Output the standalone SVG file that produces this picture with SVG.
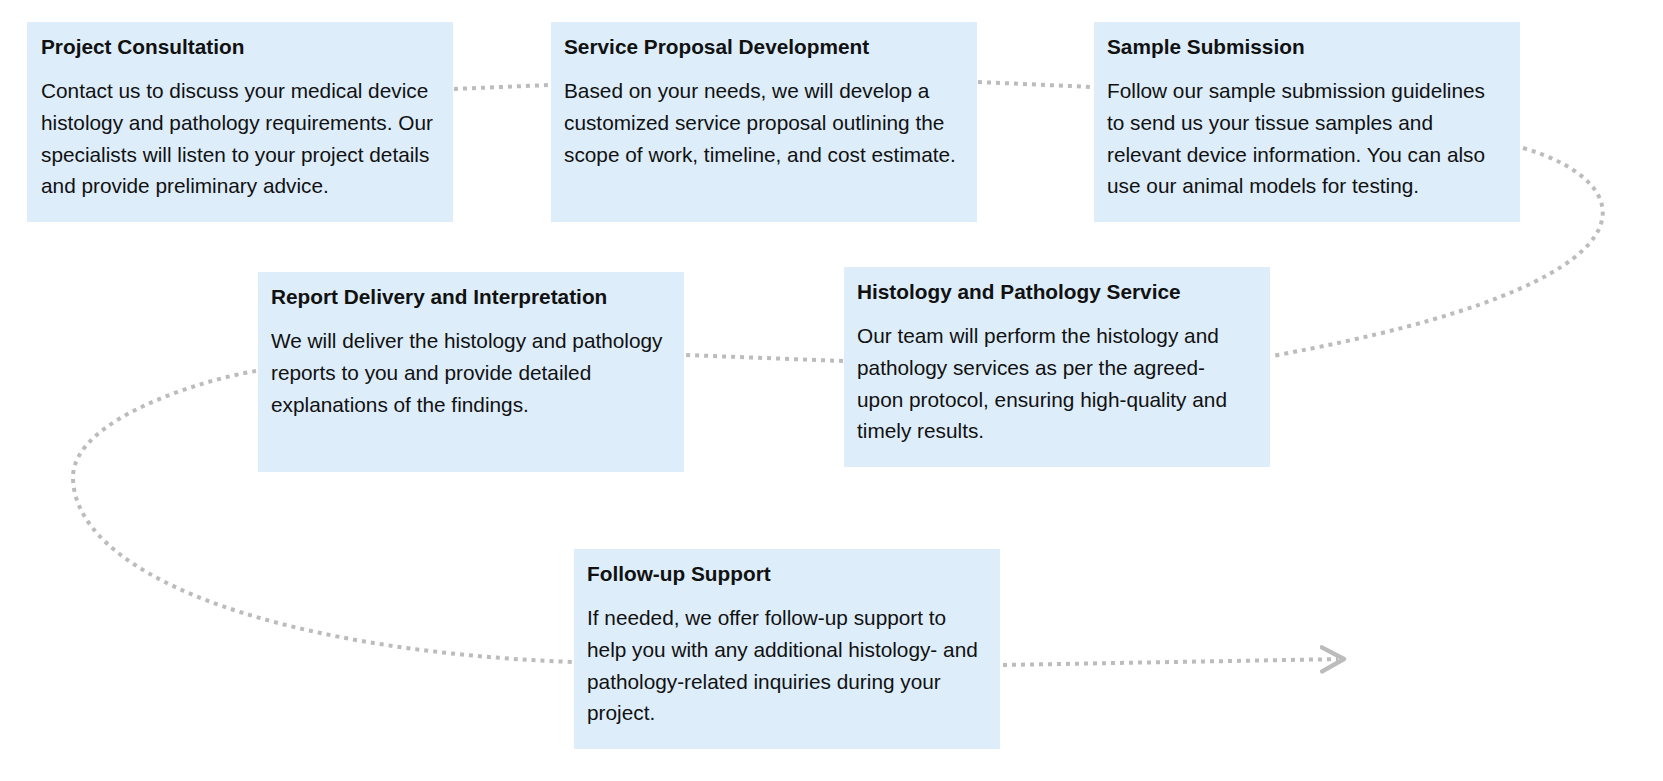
<svg xmlns="http://www.w3.org/2000/svg" width="1663" height="781" viewBox="0 0 1663 781">
<style>
.box{fill:#ddedfa}
.t{font-family:"Liberation Sans",Arial,sans-serif;font-size:20.8px;font-weight:bold;fill:#111}
.b{font-family:"Liberation Sans",Arial,sans-serif;font-size:20.8px;fill:#111}
.c{fill:none;stroke:#bcbcbc;stroke-width:4;stroke-dasharray:4 5}
</style>
<defs>
<marker id="arr" markerUnits="userSpaceOnUse" markerWidth="30" markerHeight="30" refX="24" refY="14" orient="auto" viewBox="0 0 30 30">
<polyline points="2,2 24,14 2,26" fill="none" stroke="#bcbcbc" stroke-width="4.5" stroke-linejoin="round" stroke-linecap="round"/>
</marker>
</defs>
<rect width="1663" height="781" fill="#fff"/>
<g id="connectors">
<path class="c" d="M454,89 L549,85"/>
<path class="c" d="M978,82 L1092,87"/>
<path class="c" d="M1523,148 C1640,182 1680,282 1272,356"/>
<path class="c" d="M843,361 L686,355"/>
<path class="c" d="M256,371 C200,380 73,420 73,477 C73,570 260,650 572,662"/>
<path class="c" d="M1003,665 L1338,659.1"/>
<path d="M1338,659.1 L1344,659" fill="none" stroke="none" marker-end="url(#arr)"/>
</g>
<g id="node1">
<rect class="box" x="27" y="22" width="426" height="200"/>
<text class="t" x="41" y="54">Project Consultation</text>
<text class="b" x="41" y="98.3">Contact us to discuss your medical device</text>
<text class="b" x="41" y="129.9">histology and pathology requirements. Our</text>
<text class="b" x="41" y="161.5">specialists will listen to your project details</text>
<text class="b" x="41" y="193.1">and provide preliminary advice.</text>
</g>
<g id="node2">
<rect class="box" x="551" y="22" width="426" height="200"/>
<text class="t" x="564" y="54">Service Proposal Development</text>
<text class="b" x="564" y="98.3">Based on your needs, we will develop a</text>
<text class="b" x="564" y="129.9">customized service proposal outlining the</text>
<text class="b" x="564" y="161.5">scope of work, timeline, and cost estimate.</text>
</g>
<g id="node3">
<rect class="box" x="1094" y="22" width="426" height="200"/>
<text class="t" x="1107" y="54">Sample Submission</text>
<text class="b" x="1107" y="98.3">Follow our sample submission guidelines</text>
<text class="b" x="1107" y="129.9">to send us your tissue samples and</text>
<text class="b" x="1107" y="161.5">relevant device information. You can also</text>
<text class="b" x="1107" y="193.1">use our animal models for testing.</text>
</g>
<g id="node4">
<rect class="box" x="258" y="272" width="426" height="200"/>
<text class="t" x="271" y="304">Report Delivery and Interpretation</text>
<text class="b" x="271" y="348.3">We will deliver the histology and pathology</text>
<text class="b" x="271" y="379.9">reports to you and provide detailed</text>
<text class="b" x="271" y="411.5">explanations of the findings.</text>
</g>
<g id="node5">
<rect class="box" x="844" y="267" width="426" height="200"/>
<text class="t" x="857" y="299">Histology and Pathology Service</text>
<text class="b" x="857" y="343.3">Our team will perform the histology and</text>
<text class="b" x="857" y="374.9">pathology services as per the agreed-</text>
<text class="b" x="857" y="406.5">upon protocol, ensuring high-quality and</text>
<text class="b" x="857" y="438.1">timely results.</text>
</g>
<g id="node6">
<rect class="box" x="574" y="549" width="426" height="200"/>
<text class="t" x="587" y="581">Follow-up Support</text>
<text class="b" x="587" y="625.3">If needed, we offer follow-up support to</text>
<text class="b" x="587" y="656.9">help you with any additional histology- and</text>
<text class="b" x="587" y="688.5">pathology-related inquiries during your</text>
<text class="b" x="587" y="720.1">project.</text>
</g>
</svg>
